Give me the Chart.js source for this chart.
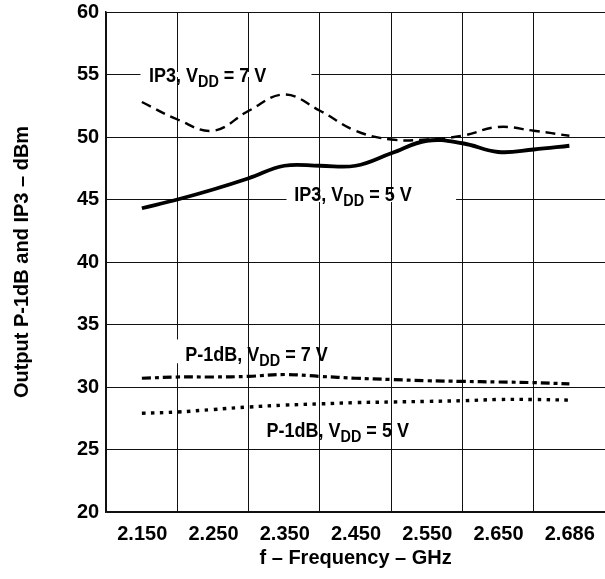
<!DOCTYPE html>
<html>
<head>
<meta charset="utf-8">
<script src="https://cdn.jsdelivr.net/npm/chart.js@4/dist/chart.umd.min.js"></script>
<style>
  html, body { margin: 0; padding: 0; background: #fff; overflow: hidden; }
  #wrap { position: relative; width: 615px; height: 579px; }
</style>
</head>
<body>
<div id="wrap"><canvas id="chart"></canvas></div>
<script>
// x tick labels sit in the middle of each grid cell (GHz)
const freqLabels = ['2.150', '2.250', '2.350', '2.450', '2.550', '2.650', '2.686'];

// sample positions along the frequency axis (0.5 = 2.150, 6.5 = 2.686)
const samplePos = [0.5, 1.0, 1.5, 2.0, 2.5, 3.0, 3.5, 4.0, 4.5, 5.0, 5.5, 6.0, 6.5];

// dBm
const ip3_7v  = [52.8, 51.4, 50.5, 52.1, 53.4, 52.1, 50.5, 49.8, 49.8, 50.1, 50.8, 50.5, 50.1];
const ip3_5v  = [44.3, 45.0, 45.8, 46.7, 47.7, 47.7, 47.7, 48.7, 49.7, 49.5, 48.8, 49.0, 49.3];
const p1db_7v = [30.7, 30.8, 30.8, 30.85, 31.0, 30.85, 30.7, 30.6, 30.5, 30.45, 30.4, 30.35, 30.25];
const p1db_5v = [27.9, 28.0, 28.2, 28.4, 28.55, 28.65, 28.75, 28.8, 28.85, 28.9, 29.0, 29.0, 28.95];

const yTicks = [20, 25, 30, 35, 40, 45, 50, 55, 60];

const FAMILY = '"Liberation Sans", Arial, sans-serif';

function pts(vals) {
  return vals.map((v, i) => ({ x: samplePos[i], y: v }));
}

// curve labels: text parts [main, subscript, rest], baseline anchor in axis units
const notes = [
  { parts: ['IP3, V', 'DD', ' = 7 V'], x: 0.60, y: 55, mid: true },
  { parts: ['IP3, V', 'DD', ' = 5 V'], x: 2.64, y: 44.9, mid: false },
  { parts: ['P-1dB, V', 'DD', ' = 7 V'], x: 1.11, y: 32.1, mid: false },
  { parts: ['P-1dB, V', 'DD', ' = 5 V'], x: 2.25, y: 26.0, mid: false }
];

// white gaps cut into the grid behind the labels: [x0, x1, y0, y1]
const gaps = [
  [0.48, 2.88, 54.8, 55.2],
  [2.53, 4.91, 44.8, 45.2],
  [0.95, 1.08, 31.9, 33.8]
];

const labelPlugin = {
  id: 'labels',
  beforeDatasetsDraw(chart) {
    const { ctx, scales: { x, y } } = chart;
    ctx.save();
    ctx.fillStyle = '#fff';
    gaps.forEach(g => {
      const x0 = x.getPixelForValue(g[0]), x1 = x.getPixelForValue(g[1]);
      const y0 = y.getPixelForValue(g[3]), y1 = y.getPixelForValue(g[2]);
      ctx.fillRect(x0, y0, x1 - x0, y1 - y0);
    });
    ctx.restore();
  },
  afterDatasetsDraw(chart) {
    const { ctx, scales: { x, y } } = chart;
    notes.forEach(n => {
      const px = x.getPixelForValue(n.x);
      let py = y.getPixelForValue(n.y);
      if (n.mid) py += 7;
      ctx.save();
      ctx.translate(px, py);
      ctx.scale(0.9, 1);   // narrow face like the original
      ctx.fillStyle = '#000';
      ctx.textBaseline = 'alphabetic';
      let cx = 0;
      ctx.font = 'bold 20px ' + FAMILY;
      ctx.fillText(n.parts[0], cx, 0);
      cx += ctx.measureText(n.parts[0]).width;
      ctx.font = 'bold 16px ' + FAMILY;
      ctx.fillText(n.parts[1], cx, 5);
      cx += ctx.measureText(n.parts[1]).width;
      ctx.font = 'bold 20px ' + FAMILY;
      ctx.fillText(n.parts[2], cx, 0);
      ctx.restore();
    });
  }
};

new Chart(document.getElementById('chart'), {
  type: 'line',
  data: {
    datasets: [
      { data: pts(ip3_7v), borderColor: '#000', borderWidth: 2.4, borderDash: [10, 6] },
      { data: pts(ip3_5v), borderColor: '#000', borderWidth: 3.8 },
      { data: pts(p1db_7v), borderColor: '#000', borderWidth: 3.2, borderDash: [9, 4, 4, 4] },
      { data: pts(p1db_5v), borderColor: '#000', borderWidth: 3.4, borderDash: [3.5, 5.5] }
    ]
  },
  options: {
    responsive: true,
    maintainAspectRatio: false,
    animation: false,
    layout: { padding: { top: 0, left: 10, right: 0, bottom: 9 } },
    elements: {
      point: { radius: 0 },
      line: { tension: 0.4, fill: false, borderCapStyle: 'butt' }
    },
    plugins: { legend: { display: false }, tooltip: { enabled: false } },
    scales: {
      x: {
        type: 'linear',
        min: 0,
        max: 7,
        grid: { color: '#111', lineWidth: 1, drawTicks: false },
        border: { color: '#111', width: 1.5 },
        ticks: {
          stepSize: 1,
          autoSkip: false,
          maxRotation: 0,
          labelOffset: 36,
          padding: 10,
          color: '#000',
          font: { family: FAMILY, size: 20, weight: 'bold' },
          callback: v => freqLabels[v] || ''
        },
        title: {
          display: true,
          text: 'f \u2013 Frequency \u2013 GHz',
          color: '#000',
          padding: { top: -10, bottom: 0 },
          font: { family: FAMILY, size: 20, weight: 'bold' }
        }
      },
      y: {
        min: 20,
        max: 60,
        grid: { color: '#111', lineWidth: 1, drawTicks: false },
        border: { color: '#111', width: 1.5 },
        afterBuildTicks: s => { s.ticks = yTicks.map(v => ({ value: v })); },
        ticks: {
          padding: 7,
          color: '#000',
          font: { family: FAMILY, size: 20, weight: 'bold', lineHeight: 0.5 }
        },
        title: {
          display: true,
          text: 'Output P-1dB and IP3 \u2013 dBm',
          color: '#000',
          padding: { top: 0, bottom: 36 },
          font: { family: FAMILY, size: 20, weight: 'bold' }
        }
      }
    }
  },
  plugins: [labelPlugin]
});
</script>
</body>
</html>
